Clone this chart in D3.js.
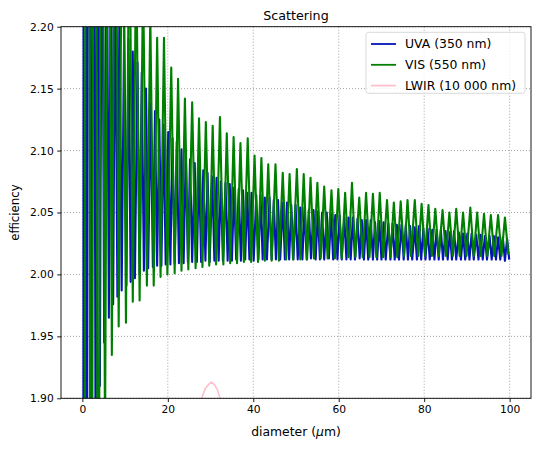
<!DOCTYPE html>
<html><head><meta charset="utf-8">
<script src="https://cdn.jsdelivr.net/npm/d3@7"></script>
<style>body{margin:0;background:#fff} text{font-family:"DejaVu Sans",sans-serif;fill:#000}</style>
</head><body><svg id="c" width="540" height="449"></svg>
<script>
const xTicks=[0,20,40,60,80,100];
const yTicks=[1.90,1.95,2.00,2.05,2.10,2.15,2.20];
const seriesNames=["UVA (350 nm)","VIS (550 nm)","LWIR (10 000 nm)"];
const seriesColors=["#0514b8","#008000","#ffc0cb"];

// UVA (350 nm): oscillation maxima and minima
const uvaPeakD=[0.5,1.5,2.6,3.6,4.6,5.7,6.7,7.7,8.7,9.8,
10.8,11.8,12.9,13.9,14.9,16.0,17.0,18.0,19.0,20.1,
21.1,22.1,23.2,24.2,25.2,26.3,27.3,28.3,29.3,30.4,
31.4,32.4,33.5,34.5,35.5,36.6,37.6,38.6,39.6,40.7,
41.7,42.7,43.8,44.8,45.8,46.9,47.9,48.9,49.9,51.0,
52.0,53.0,54.1,55.1,56.1,57.2,58.2,59.2,60.2,61.3,
62.3,63.3,64.4,65.4,66.4,67.5,68.5,69.5,70.5,71.6,
72.6,73.6,74.7,75.7,76.7,77.8,78.8,79.8,80.8,81.9,
82.9,83.9,85.0,86.0,87.0,88.1,89.1,90.1,91.1,92.2,
93.2,94.2,95.3,96.3,97.3,98.4,99.4];
const uvaPeakQ=[4.00,2.90,2.60,2.45,2.38,2.32,2.28,2.25,2.225,2.205,
2.19,2.18,2.171,2.163,2.150,2.138,2.132,2.125,2.121,2.115,
2.110,2.107,2.101,2.098,2.093,2.090,2.088,2.084,2.082,2.079,
2.078,2.075,2.074,2.073,2.070,2.069,2.068,2.066,2.066,2.064,
2.064,2.062,2.062,2.060,2.060,2.058,2.058,2.056,2.056,2.054,
2.054,2.052,2.052,2.051,2.050,2.050,2.049,2.048,2.048,2.046,
2.046,2.046,2.045,2.044,2.044,2.044,2.042,2.043,2.042,2.041,
2.041,2.040,2.040,2.040,2.039,2.038,2.039,2.037,2.037,2.036,
2.036,2.036,2.035,2.034,2.035,2.034,2.033,2.033,2.033,2.032,
2.032,2.031,2.031,2.031,2.030,2.030,2.029];
const uvaTroughD=[0.0,1.0,2.0,3.1,4.1,5.1,6.2,7.2,8.2,9.2,10.3,
11.3,12.3,13.4,14.4,15.4,16.5,17.5,18.5,19.5,20.6,
21.6,22.6,23.7,24.7,25.7,26.8,27.8,28.8,29.8,30.9,
31.9,32.9,34.0,35.0,36.0,37.1,38.1,39.1,40.1,41.2,
42.2,43.2,44.3,45.3,46.3,47.4,48.4,49.4,50.4,51.5,
52.5,53.5,54.6,55.6,56.6,57.7,58.7,59.7,60.7,61.8,
62.8,63.8,64.9,65.9,66.9,68.0,69.0,70.0,71.0,72.1,
73.1,74.1,75.2,76.2,77.2,78.3,79.3,80.3,81.3,82.4,
83.4,84.4,85.5,86.5,87.5,88.6,89.6,90.6,91.6,92.7,
93.7,94.7,95.8,96.8,97.8,98.9,99.9];
const uvaTroughQ=[0.0,1.50,1.72,1.84,1.91,1.945,1.965,1.976,1.982,1.987,1.991,
1.994,1.997,2.000,2.003,2.005,2.006,2.007,2.007,2.008,2.008,
2.009,2.009,2.009,2.010,2.010,2.010,2.010,2.011,2.010,2.011,
2.011,2.011,2.011,2.011,2.012,2.011,2.012,2.012,2.011,2.012,
2.012,2.012,2.012,2.012,2.012,2.012,2.012,2.012,2.012,2.012,
2.012,2.013,2.012,2.012,2.012,2.013,2.012,2.012,2.012,2.012,
2.012,2.012,2.013,2.012,2.012,2.012,2.012,2.012,2.012,2.012,
2.012,2.012,2.012,2.012,2.012,2.012,2.012,2.012,2.012,2.012,
2.012,2.012,2.012,2.012,2.012,2.012,2.012,2.012,2.012,2.012,
2.012,2.012,2.012,2.012,2.012,2.011,2.012];

// VIS (550 nm)
const visPeakD=[1.2,2.9,4.5,6.1,7.7,9.4,11.0,12.6,14.2,15.9,
17.5,19.1,20.8,22.4,24.0,25.7,27.3,28.9,30.5,32.2,
33.8,35.4,37.0,38.7,40.3,41.9,43.5,45.2,46.9,48.5,
50.2,51.8,53.4,55.0,56.6,58.3,59.9,61.5,63.1,64.8,
66.4,68.0,69.6,71.3,72.9,74.5,76.1,77.8,79.4,81.0,
82.6,84.3,85.9,87.5,89.1,90.8,92.4,94.0,95.6,97.3,
98.9];
const visPeakQ=[3.90,2.95,2.62,2.50,2.42,2.36,2.31,2.27,2.24,2.21,
2.191,2.191,2.167,2.158,2.142,2.139,2.126,2.123,2.120,2.127,
2.114,2.111,2.106,2.110,2.096,2.094,2.089,2.089,2.082,2.081,
2.085,2.081,2.078,2.074,2.071,2.068,2.069,2.066,2.074,2.062,
2.066,2.065,2.066,2.060,2.058,2.059,2.060,2.060,2.057,2.056,
2.053,2.052,2.050,2.053,2.050,2.054,2.050,2.049,2.048,2.048,
2.046];
const visTroughD=[0.0,2.0,3.7,5.3,6.9,8.5,10.2,11.8,13.4,15.1,16.7,
18.3,19.9,21.6,23.2,24.8,26.5,28.1,29.7,31.3,33.0,
34.6,36.2,37.8,39.5,41.1,42.7,44.3,46.0,47.7,49.3,
51.0,52.6,54.2,55.8,57.4,59.1,60.7,62.3,63.9,65.6,
67.2,68.8,70.4,72.1,73.7,75.3,76.9,78.6,80.2,81.8,
83.4,85.1,86.7,88.3,89.9,91.6,93.2,94.8,96.4,98.1,
99.7];
const visTroughQ=[0.0,1.25,1.55,1.86,1.935,1.958,1.961,1.978,1.979,1.991,1.991,
1.998,2.000,2.001,2.003,2.004,2.005,2.006,2.007,2.008,2.008,
2.009,2.009,2.010,2.010,2.010,2.011,2.011,2.011,2.012,2.012,
2.012,2.012,2.013,2.013,2.013,2.013,2.013,2.014,2.014,2.014,
2.014,2.014,2.014,2.014,2.014,2.015,2.015,2.015,2.015,2.015,
2.015,2.015,2.015,2.015,2.015,2.015,2.015,2.015,2.015,2.015,
2.016];

// LWIR (10 000 nm): only the small visible arch
const lwirD=[26.5,27.9,28.8,29.5,30.2,30.9,31.6,32.2,33.5];
const lwirQ=[1.87,1.90,1.908,1.911,1.913,1.911,1.907,1.90,1.87];

function merge(pd,pq,td,tq){
  const pts=pd.map((d,i)=>[d,pq[i]]).concat(td.map((d,i)=>[d,tq[i]]));
  return pts.sort((a,b)=>a[0]-b[0]);
}
const series=[
  merge(uvaPeakD,uvaPeakQ,uvaTroughD,uvaTroughQ),
  merge(visPeakD,visPeakQ,visTroughD,visTroughQ),
  lwirD.map((d,i)=>[d,lwirQ[i]])
];

const W=540,H=449,m={l:61,r:9,t:26.7,b:50.7};
const svg=d3.select("#c");
const x=d3.scaleLinear().domain([-5,105]).range([m.l,W-m.r]);
const y=d3.scaleLinear().domain([1.90,2.20]).range([H-m.b,m.t]);
const fsTick=10.7, fsLab=12.4;

svg.append("defs").append("clipPath").attr("id","clip").append("rect")
  .attr("x",m.l).attr("y",m.t).attr("width",W-m.l-m.r).attr("height",H-m.t-m.b);

// grid
const g=svg.append("g");
g.selectAll(".gx").data(xTicks).enter().append("line")
  .attr("x1",d=>x(d)).attr("x2",d=>x(d)).attr("y1",m.t).attr("y2",H-m.b)
  .attr("stroke","#8a8a8a").attr("stroke-width",0.8).attr("stroke-dasharray","1,2");
g.selectAll(".gy").data(yTicks).enter().append("line")
  .attr("y1",d=>y(d)).attr("y2",d=>y(d)).attr("x1",m.l).attr("x2",W-m.r)
  .attr("stroke","#8a8a8a").attr("stroke-width",0.8).attr("stroke-dasharray","1,2");

// lines
const line=d3.line().x(d=>x(d[0])).y(d=>y(d[1]));
const lg=svg.append("g").attr("clip-path","url(#clip)");
series.forEach((s,i)=>{
  lg.append("path").attr("d",line(s)).attr("fill","none")
    .attr("stroke",seriesColors[i]).attr("stroke-width",i<2?2.1:1.6)
    .attr("stroke-linejoin","round");
});

// frame
svg.append("rect").attr("x",m.l).attr("y",m.t).attr("width",W-m.l-m.r).attr("height",H-m.t-m.b)
  .attr("fill","none").attr("stroke","#000").attr("stroke-width",0.9);

// axes
const xa=svg.append("g").attr("transform",`translate(0,${H-m.b})`)
  .call(d3.axisBottom(x).tickValues(xTicks).tickSize(3.8).tickPadding(3.5).tickFormat(d3.format("d")));
const ya=svg.append("g").attr("transform",`translate(${m.l},0)`)
  .call(d3.axisLeft(y).tickValues(yTicks).tickSize(3.8).tickPadding(3.5).tickFormat(d3.format(".2f")));
[xa,ya].forEach(a=>{
  a.select(".domain").remove();
  a.selectAll("line").attr("stroke","#000").attr("stroke-width",0.9);
  a.selectAll("text").attr("font-size",fsTick).attr("font-family","DejaVu Sans").attr("fill","#000");
});

// title and labels
svg.append("text").attr("x",(m.l+W-m.r)/2).attr("y",19.5).attr("text-anchor","middle")
  .attr("font-size",12.7).text("Scattering");
const xl=svg.append("text").attr("x",(m.l+W-m.r)/2).attr("y",435.5).attr("text-anchor","middle")
  .attr("font-size",fsLab);
xl.append("tspan").text("diameter (");
xl.append("tspan").attr("font-style","italic").text("μ");
xl.append("tspan").text("m)");
svg.append("text").attr("transform",`translate(19,${(m.t+H-m.b)/2}) rotate(-90)`)
  .attr("text-anchor","middle").attr("font-size",11.8).text("efficiency");

// legend
const L=svg.append("g");
L.append("rect").attr("x",366).attr("y",32.3).attr("width",159).attr("height",61).attr("rx",2.5)
  .attr("fill","#fff").attr("fill-opacity",0.8).attr("stroke","#d5d5d5").attr("stroke-width",0.9);
seriesNames.forEach((n,i)=>{
  const yy=44+i*20.8;
  L.append("line").attr("x1",371).attr("x2",396).attr("y1",yy).attr("y2",yy)
    .attr("stroke",seriesColors[i]).attr("stroke-width",1.8);
  L.append("text").attr("x",405).attr("y",yy+4.4).attr("font-size",fsLab).text(n);
});
</script></body></html>
